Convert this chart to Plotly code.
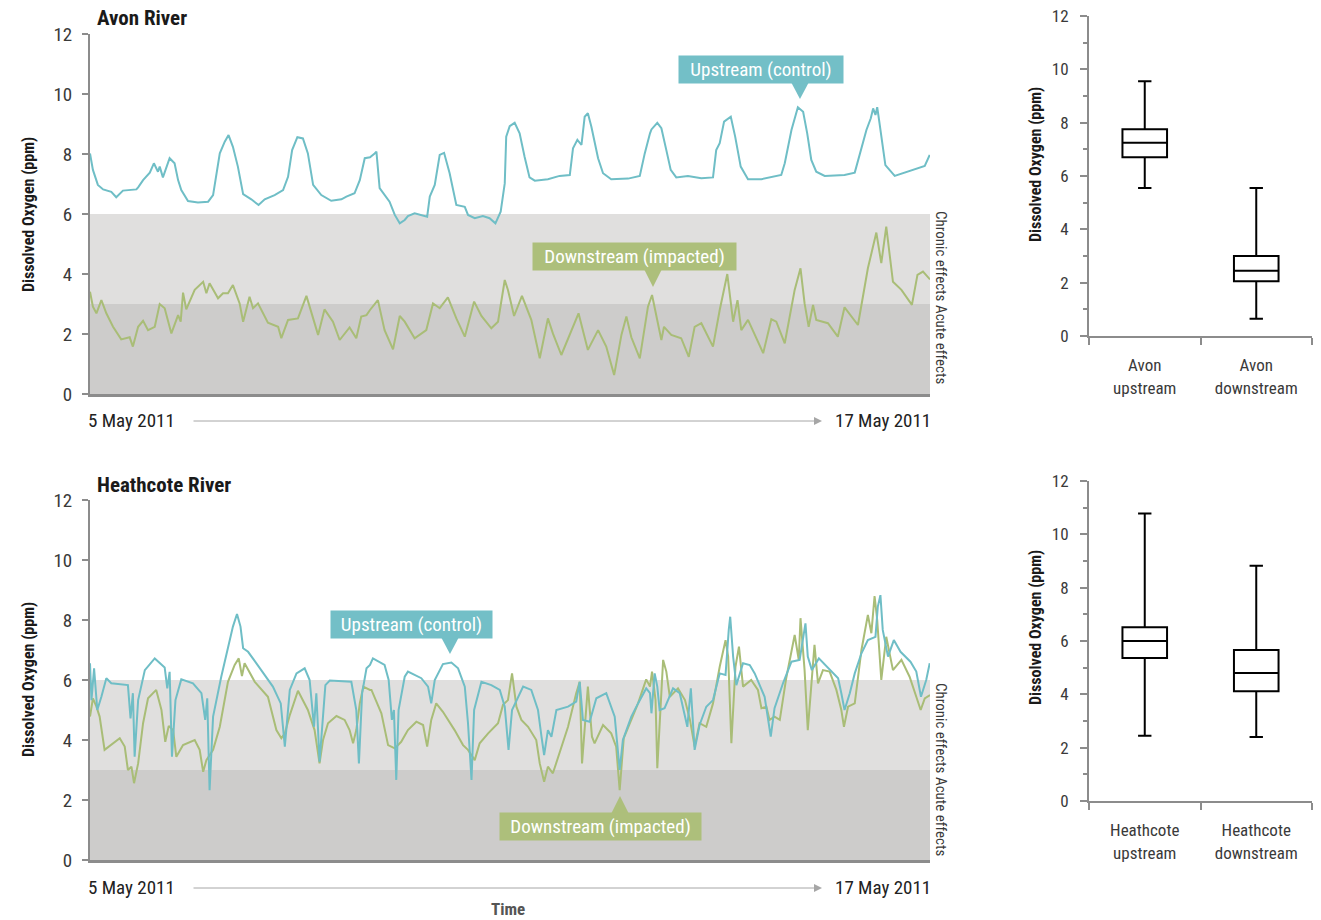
import plotly.graph_objects as go
import pandas as pd

# ---------------- data (hours since 5 May 2011 00:00, dissolved oxygen ppm) ----------------
AVON_UP_H = [0, 1.0, 2.7, 4.5, 7.3, 9.0, 11.3, 14.2, 15.9, 16.5, 18.2, 20.5, 21.9, 23.3, 23.9, 25.0, 27.3, 29.0, 30.2, 31.3,
             33.6, 37.0, 40.5, 42.2, 43.3, 44.5, 46.2, 47.5, 49.0, 50.7, 52.5, 55.3, 57.8, 59.9, 63.3, 66.2, 67.9, 69.3, 71.1, 73.0,
             74.7, 76.5, 79.3, 82.7, 86.2, 87.9, 90.7, 92.5, 94.2, 96.0,
             97.6, 98.2, 99.3, 101.0, 102.7, 104.5, 106.2, 107.9, 109.0, 111.3, 113.6, 115.6, 116.5, 118.2, 119.9, 121.4, 123.3, 125.6, 128.5, 129.6,
             131.9, 134.7, 137.0, 139.0, 140.8, 142.2, 142.7, 143.9, 145.6, 147.3, 149.0, 150.7, 152.5, 157.0, 161.0, 164.5, 165.6, 167.1, 168.5, 169.6,
             170.7, 171.9, 174.2, 175.9, 178.7, 184.5, 188.5, 190.2, 192.0,
             192.5, 194.5, 195.9, 197.6, 199.1, 201.0, 205.0, 209.6, 213.6, 214.7, 215.9, 217.4, 219.7, 221.2, 223.1, 225.6, 230.2, 237.0, 238.2, 240.5,
             242.7, 244.5, 245.9, 247.3, 249.0, 251.9, 258.7, 262.2, 263.9, 266.2, 267.7, 268.5, 269.3, 269.9, 270.7, 272.7, 275.9, 280.5, 286.2, 287.9]
AVON_UP_V = [8.02, 7.47, 6.97, 6.82, 6.74, 6.56, 6.78, 6.82, 6.82, 6.89, 7.13, 7.38, 7.69, 7.41, 7.58, 7.22, 7.86, 7.69, 7.13, 6.8,
             6.43, 6.38, 6.41, 6.63, 7.36, 8.02, 8.41, 8.63, 8.24, 7.58, 6.66, 6.49, 6.3, 6.49, 6.63, 6.8, 7.24, 8.13, 8.56, 8.52,
             8.02, 6.97, 6.63, 6.44, 6.49, 6.58, 6.69, 7.13, 7.86, 7.89,
             8.02, 8.08, 6.86, 6.63, 6.41, 5.97, 5.69, 5.8, 5.93, 6.02, 5.97, 5.91, 6.58, 6.97, 7.97, 8.04, 7.36, 6.3, 6.24, 5.97,
             5.86, 5.93, 5.86, 5.69, 6.08, 7.02, 8.58, 8.93, 9.04, 8.69, 7.91, 7.22, 7.11, 7.16, 7.27, 7.3, 8.19, 8.47, 8.3, 9.24,
             9.36, 8.91, 7.86, 7.36, 7.16, 7.18, 7.27, 8.02, 8.69,
             8.82, 9.04, 8.86, 8.13, 7.47, 7.22, 7.27, 7.19, 7.22, 8.13, 8.36, 9.08, 9.24, 8.58, 7.58, 7.16, 7.16, 7.3, 7.69, 8.8,
             9.56, 9.41, 8.69, 7.8, 7.41, 7.27, 7.3, 7.38, 8.02, 8.8, 9.19, 9.52, 9.3, 9.56, 9.02, 7.63, 7.27, 7.41, 7.6, 7.97]

AVON_DN_H = [0, 1.0, 2.2, 3.9, 5.6, 7.9, 10.7, 13.6, 14.7, 16.5, 18.2, 19.9, 22.2, 23.9, 25.6, 27.9, 30.2, 31.1, 31.9, 33.0,
             35.9, 38.8, 39.9, 41.0, 43.9, 45.6, 47.3, 49.0, 51.3, 52.5, 54.7, 55.9, 57.6, 61.0, 64.5, 65.6, 67.9, 71.3, 74.2, 75.9,
             78.2, 80.4, 83.3, 85.6, 89.0, 91.3, 93.0, 94.8, 96.0,
             98.7, 101.0, 103.9, 106.2, 107.9, 111.3, 115.3, 117.6, 119.9, 122.7, 125.6, 128.5, 131.7, 134.2, 137.6, 139.9, 142.2, 143.3, 145.4, 148.1,
             151.3, 154.2, 157.0, 158.7, 161.6, 164.5, 167.5, 170.7, 174.2, 177.0, 179.7, 182.2, 183.9, 185.6, 188.5, 191.3,
             192.7, 195.9, 196.8, 199.3, 202.7, 205.3, 207.3, 209.6, 213.6, 215.9, 218.5, 220.5, 222.0, 223.3, 225.6, 230.8, 233.6, 235.3, 238.2, 241.6,
             243.6, 245.0, 246.4, 247.9, 249.0, 253.0, 256.4, 258.7, 263.3, 266.7, 269.6, 271.3, 273.0, 275.3, 278.2, 281.8, 283.7, 285.6, 288.0]
AVON_DN_V = [3.41, 2.91, 2.69, 3.13, 2.69, 2.24, 1.82, 1.89, 1.58, 2.24, 2.44, 2.13, 2.24, 3.0, 2.86, 2.02, 2.63, 2.41, 3.38, 2.82,
             3.47, 3.74, 3.36, 3.69, 3.19, 3.36, 3.36, 3.63, 3.02, 2.41, 3.24, 2.86, 3.02, 2.38, 2.24, 1.86, 2.47, 2.52, 3.27, 2.69,
             1.97, 2.82, 2.41, 1.8, 2.22, 1.86, 2.58, 2.63, 2.8,
             3.13, 2.13, 1.49, 2.6, 2.41, 1.86, 2.13, 3.02, 2.86, 3.22, 2.52, 1.91, 3.08, 2.6, 2.19, 2.41, 3.8, 3.47, 2.6, 3.27,
             2.47, 1.19, 2.52, 2.02, 1.3, 1.97, 2.69, 1.47, 2.13, 1.58, 0.63, 1.97, 2.58, 1.89, 1.19, 2.91,
             3.3, 1.8, 2.24, 1.97, 1.86, 1.24, 2.24, 2.36, 1.58, 2.8, 4.0, 2.41, 3.13, 2.13, 2.47, 1.36, 2.49, 2.41, 1.69, 3.47,
             4.19, 3.02, 2.24, 2.97, 2.47, 2.36, 1.91, 2.89, 2.3, 4.19, 5.38, 4.36, 5.58, 3.74, 3.47, 2.97, 3.97, 4.08, 3.82]

HEATH_UP_H = [0, 0.5, 1.4, 2.5, 3.9, 5.6, 7.3, 13.0, 13.9, 14.7, 15.3, 16.5, 18.8, 22.2, 25.6, 26.5, 27.3, 28.1, 29.3, 31.3,
              35.3, 38.2, 39.5, 40.2, 41.0, 42.2, 45.0, 47.3, 49.0, 50.4, 51.6, 52.5, 54.2, 58.7, 62.7, 65.4, 66.8, 68.5, 70.8, 73.6,
              75.3, 76.8, 77.6, 78.7, 80.7, 82.2, 89.6, 91.3, 92.2, 93.3, 94.8, 96.0,
              97.0, 101.0, 102.4, 103.5, 104.2, 105.0, 105.8, 107.9, 109.0, 113.6, 115.9, 117.0, 118.2, 121.0, 123.9, 126.2, 128.5, 129.6, 130.8, 131.7,
              134.2, 137.6, 140.5, 142.2, 143.5, 144.7, 148.5, 151.3, 153.6, 154.8, 155.7, 157.0, 158.2, 159.9, 163.9, 166.7, 167.9, 169.0, 171.3, 173.6,
              177.0, 179.9, 181.6, 182.7, 185.6, 187.9, 190.7, 192.0,
              192.5, 193.6, 194.5, 195.3, 197.0, 199.9, 202.2, 204.8, 206.0, 207.3, 209.0, 211.3, 213.6, 215.9, 217.9, 219.0, 219.5, 220.5, 221.6, 223.9,
              226.2, 227.9, 230.2, 231.3, 233.4, 234.7, 237.6, 240.5, 243.3, 244.5, 245.3, 246.1, 247.5, 249.9, 253.6, 256.5, 257.6, 258.7, 260.5, 262.2,
              264.5, 266.7, 269.3, 270.1, 271.0, 271.8, 273.6, 275.6, 277.9, 281.3, 283.3, 284.9, 286.7, 287.9]
HEATH_UP_V = [6.56, 5.33, 6.39, 5.0, 5.44, 6.06, 5.89, 5.83, 4.72, 5.56, 3.44, 5.33, 6.33, 6.72, 6.42, 5.72, 6.27, 3.44, 5.33, 6.02,
              5.89, 5.56, 4.67, 5.39, 2.33, 4.78, 6.11, 7.11, 7.78, 8.2, 7.78, 7.06, 6.94, 6.33, 5.78, 5.22, 3.78, 5.67, 6.22, 6.39,
              6.0, 4.44, 5.56, 3.28, 5.83, 5.98, 5.94, 5.0, 3.22, 5.56, 6.39, 6.5,
              6.72, 6.5, 6.0, 4.67, 5.0, 2.67, 5.0, 6.11, 6.28, 6.06, 5.78, 5.22, 6.0, 6.53, 6.58, 6.39, 5.78, 4.56, 2.67, 5.0,
              5.94, 5.83, 5.67, 5.11, 3.67, 5.0, 5.78, 5.67, 5.0, 4.11, 3.5, 4.33, 4.11, 5.0, 5.11, 5.28, 5.94, 4.67, 4.61, 5.39,
              5.56, 4.78, 3.0, 4.0, 4.78, 5.22, 5.72, 5.56,
              4.89, 6.22, 5.78, 5.0, 5.06, 5.72, 5.56, 4.44, 5.72, 3.67, 4.5, 5.11, 5.33, 6.22, 6.17, 7.67, 8.11, 6.78, 5.83, 6.56,
              6.5, 6.22, 5.72, 5.44, 4.11, 5.06, 5.89, 6.61, 6.67, 7.44, 7.89, 6.78, 6.33, 6.72, 6.33, 6.06, 5.56, 5.0, 5.56, 6.22,
              6.89, 7.33, 7.44, 8.44, 8.83, 7.67, 6.78, 7.33, 6.94, 6.61, 6.28, 5.44, 6.0, 6.56]

HEATH_DN_H = [0, 1.0, 2.2, 3.3, 5.0, 7.3, 10.2, 11.9, 13.0, 14.2, 15.1, 16.5, 18.2, 19.9, 22.7, 24.5, 25.8, 27.0, 28.5, 29.6,
              31.9, 35.9, 37.6, 38.8, 39.9, 42.2, 44.5, 47.3, 49.6, 51.0, 52.1, 53.0, 56.5, 61.0, 63.9, 65.6, 66.8, 68.5, 71.3, 74.7,
              77.0, 78.7, 79.9, 81.6, 84.5, 87.3, 89.0, 90.2, 91.3, 92.5, 93.7, 96.0,
              96.5, 99.9, 102.2, 104.5, 106.7, 109.0, 111.9, 114.2, 115.6, 117.0, 118.7, 121.0, 125.0, 127.9, 129.6, 131.9, 133.6, 136.5, 138.2, 139.9,
              141.6, 143.3, 144.7, 146.2, 147.9, 150.2, 153.0, 154.2, 155.7, 157.0, 158.7, 161.6, 163.9, 166.7, 167.9, 168.7, 170.7, 172.1, 173.0, 175.9,
              178.7, 180.4, 181.6, 183.0, 185.6, 187.9, 190.7, 192.0,
              192.7, 193.9, 194.5, 195.7, 196.5, 197.6, 198.8, 201.6, 204.0, 205.7, 207.3, 209.0, 211.3, 213.6, 215.9, 217.9, 218.8, 219.9, 221.3, 222.5,
              223.9, 226.7, 229.0, 230.2, 231.9, 233.0, 234.7, 236.5, 238.7, 241.6, 243.0, 243.6, 245.0, 246.1, 247.3, 248.4, 249.6, 251.3, 253.6, 255.9,
              257.6, 258.5, 259.9, 262.2, 264.5, 266.7, 267.9, 269.0, 269.9, 271.3, 273.0, 275.3, 278.2, 281.0, 283.3, 284.8, 286.2, 288.0]
HEATH_DN_V = [4.78, 5.39, 5.11, 4.78, 3.67, 3.83, 4.06, 3.78, 3.0, 3.11, 2.56, 3.22, 4.56, 5.39, 5.67, 5.0, 3.94, 4.47, 4.33, 3.44,
              3.83, 4.0, 3.67, 2.94, 3.33, 3.67, 4.44, 5.94, 6.5, 6.72, 6.13, 6.56, 5.94, 5.44, 4.33, 4.06, 4.22, 4.83, 5.64, 5.0,
              4.33, 3.22, 4.0, 4.56, 4.8, 4.67, 4.33, 3.89, 4.33, 5.22, 5.78, 5.67,
              5.67, 4.89, 3.83, 3.72, 3.94, 4.33, 4.61, 4.5, 3.78, 4.67, 5.22, 4.94, 4.33, 3.83, 3.67, 3.33, 3.89, 4.22, 4.39, 4.56,
              5.17, 5.33, 6.22, 5.11, 4.67, 4.44, 4.0, 3.22, 2.61, 3.11, 2.89, 3.72, 4.44, 5.56, 5.94, 3.22, 5.78, 4.11, 3.89, 4.5,
              4.22, 3.78, 2.33, 4.06, 4.67, 5.22, 6.02, 5.78,
              6.28, 5.33, 3.06, 5.22, 6.67, 6.28, 5.44, 5.72, 5.33, 4.67, 3.78, 4.56, 4.44, 5.22, 6.44, 7.33, 6.78, 3.89, 6.44, 7.11,
              5.78, 6.0, 5.67, 5.06, 5.11, 4.67, 4.78, 4.67, 6.06, 7.5, 6.67, 8.06, 6.33, 4.33, 5.89, 7.17, 5.89, 6.33, 6.28, 5.67,
              5.0, 4.44, 5.11, 5.22, 7.0, 8.17, 7.56, 8.8, 8.0, 6.0, 7.44, 6.33, 6.67, 6.11, 5.44, 5.0, 5.39, 5.5]

# box plot summaries
AVON_CATS = ["Avon<br>upstream", "Avon<br>downstream"]
AVON_LOW = [5.55, 0.65]
AVON_Q1 = [6.7, 2.05]
AVON_MED = [7.25, 2.45]
AVON_Q3 = [7.75, 3.0]
AVON_HIGH = [9.55, 5.55]

HEATH_CATS = ["Heathcote<br>upstream", "Heathcote<br>downstream"]
HEATH_LOW = [2.45, 2.4]
HEATH_Q1 = [5.36, 4.12]
HEATH_MED = [6.0, 4.8]
HEATH_Q3 = [6.52, 5.66]
HEATH_HIGH = [10.78, 8.82]

Y_TICKS = [0, 2, 4, 6, 8, 10, 12]
ACUTE_LIMIT = 3
CHRONIC_LIMIT = 6

# ---------------- styling ----------------
W, H = 1321, 920
FONT = "Liberation Sans Narrow, Roboto Condensed, DejaVu Sans Condensed, Roboto, sans-serif"
TEAL = "#6fbec6"
GREEN = "#a9bd77"
TEAL_BOX = "#73bfc7"
GREEN_BOX = "#adbf7b"
AXIS = "#8c8c8c"
TXT = "#3a3a3a"
START = pd.Timestamp("2011-05-05")
END = pd.Timestamp("2011-05-17")


def px(x):
    return x / W


def py(y):
    return 1 - y / H


def to_time(hours):
    return [START + pd.Timedelta(hours=h) for h in hours]


fig = go.Figure()

# time series
fig.add_trace(go.Scatter(x=to_time(AVON_DN_H), y=AVON_DN_V, mode="lines", line=dict(color=GREEN, width=2),
                         xaxis="x", yaxis="y", showlegend=False, name="Avon downstream"))
fig.add_trace(go.Scatter(x=to_time(AVON_UP_H), y=AVON_UP_V, mode="lines", line=dict(color=TEAL, width=2),
                         xaxis="x", yaxis="y", showlegend=False, name="Avon upstream"))
fig.add_trace(go.Scatter(x=to_time(HEATH_DN_H), y=HEATH_DN_V, mode="lines", line=dict(color=GREEN, width=2),
                         xaxis="x2", yaxis="y2", showlegend=False, name="Heathcote downstream"))
fig.add_trace(go.Scatter(x=to_time(HEATH_UP_H), y=HEATH_UP_V, mode="lines", line=dict(color=TEAL, width=2),
                         xaxis="x2", yaxis="y2", showlegend=False, name="Heathcote upstream"))

# box plots
box_style = dict(fillcolor="white", line=dict(color="black", width=2), width=0.4, whiskerwidth=0.3,
                 boxpoints=False, showlegend=False)
fig.add_trace(go.Box(x=AVON_CATS, q1=AVON_Q1, median=AVON_MED, q3=AVON_Q3, lowerfence=AVON_LOW,
                     upperfence=AVON_HIGH, xaxis="x3", yaxis="y3", **box_style))
fig.add_trace(go.Box(x=HEATH_CATS, q1=HEATH_Q1, median=HEATH_MED, q3=HEATH_Q3, lowerfence=HEATH_LOW,
                     upperfence=HEATH_HIGH, xaxis="x4", yaxis="y4", **box_style))

ts_x = dict(range=[START, END], showline=True, linecolor=AXIS, linewidth=3, showticklabels=False,
            ticks="", showgrid=False, zeroline=False)
ts_y = dict(range=[0, 12], tickvals=Y_TICKS, ticks="outside", ticklen=6, tickwidth=2, tickcolor=AXIS,
            showline=True, linecolor=AXIS, linewidth=2, showgrid=False, zeroline=False,
            tickfont=dict(family=FONT, size=19, color=TXT), ticklabelstandoff=6)
bx_x = dict(type="category", range=[-0.5, 1.5], tickson="boundaries", ticks="outside", ticklen=7, tickwidth=2,
            tickcolor=AXIS, showline=True, linecolor=AXIS, linewidth=2, showgrid=False, zeroline=False,
            tickfont=dict(family=FONT, size=17, color=TXT), ticklabelstandoff=13)
bx_y = dict(range=[0, 12], tickvals=Y_TICKS, ticks="outside", ticklen=7, tickwidth=2, tickcolor=AXIS,
            showline=True, linecolor=AXIS, linewidth=2, showgrid=False, zeroline=False,
            minor=dict(dtick=1, ticks="outside", ticklen=4, tickwidth=2, tickcolor=AXIS, showgrid=False),
            tickfont=dict(family=FONT, size=17, color=TXT), ticklabelstandoff=8)

fig.update_layout(
    width=W, height=H, margin=dict(l=0, r=0, t=0, b=0, pad=0, autoexpand=False),
    paper_bgcolor="white", plot_bgcolor="rgba(0,0,0,0)",
    font=dict(family=FONT, color=TXT),
    xaxis=dict(domain=[px(90), px(930)], anchor="y", **ts_x),
    yaxis=dict(domain=[py(394), py(34)], anchor="x", **ts_y),
    xaxis2=dict(domain=[px(90), px(930)], anchor="y2", **ts_x),
    yaxis2=dict(domain=[py(860), py(500)], anchor="x2", **ts_y),
    xaxis3=dict(domain=[px(1089), px(1312)], anchor="y3", **bx_x),
    yaxis3=dict(domain=[py(336), py(16)], anchor="x3", **bx_y),
    xaxis4=dict(domain=[px(1089), px(1312)], anchor="y4", **bx_x),
    yaxis4=dict(domain=[py(801), py(481)], anchor="x4", **bx_y),
    hovermode=False,
)

shapes = []
for xr, yr in [("x", "y"), ("x2", "y2")]:
    shapes.append(dict(type="rect", xref=f"{xr} domain", yref=yr, x0=0, x1=1, y0=0, y1=ACUTE_LIMIT,
                       fillcolor="#cdcccb", line=dict(width=0), layer="below"))
    shapes.append(dict(type="rect", xref=f"{xr} domain", yref=yr, x0=0, x1=1, y0=ACUTE_LIMIT, y1=CHRONIC_LIMIT,
                       fillcolor="#e0dfde", line=dict(width=0), layer="below"))


def tri(pts, color):
    p = " ".join(("M" if i == 0 else "L") + f" {px(x):.5f},{py(y):.5f}" for i, (x, y) in enumerate(pts)) + " Z"
    return dict(type="path", xref="paper", yref="paper", path=p, fillcolor=color, line=dict(width=0))


shapes += [
    tri([(791, 82), (809, 82), (800, 99)], TEAL_BOX),
    tri([(644, 269), (662, 269), (653, 287)], GREEN_BOX),
    tri([(441, 637), (459, 637), (450, 654)], TEAL_BOX),
    tri([(611, 814), (629, 814), (620, 796)], GREEN_BOX),
]
fig.update_layout(shapes=shapes)

ann = []


def label(text, x, y, size, color=TXT, xanchor="center", angle=0, bold=False):
    ann.append(dict(text=f"<b>{text}</b>" if bold else text, x=px(x), y=py(y), xref="paper", yref="paper",
                    showarrow=False, xanchor=xanchor, yanchor="middle", textangle=angle,
                    font=dict(family=FONT, size=size, color=color)))


label("Avon River", 95, 18, 21, "#1a1a1a", "left", bold=True)
label("Heathcote River", 95, 485, 21, "#1a1a1a", "left", bold=True)
for yc in (215, 680):
    label("Dissolved Oxygen (ppm)", 28, yc, 16, "#1a1a1a", angle=-90, bold=True)
for yc in (165, 628):
    label("Dissolved Oxygen (ppm)", 1035, yc, 16, "#1a1a1a", angle=-90, bold=True)

for yd in (420, 887):
    label("5 May 2011", 86, yd, 19, "#222222", "left")
    label("17 May 2011", 933, yd, 19, "#222222", "right")
    ann.append(dict(x=px(822), y=py(yd + 1), ax=-(822 - 192), ay=0, xref="paper", yref="paper",
                    axref="pixel", ayref="pixel", text="", showarrow=True, arrowhead=2, arrowsize=1.6,
                    arrowwidth=1, arrowcolor="#a6a6a6"))
label("Time", 508, 909, 17, "#555555", bold=True)

for yc_ch, yc_ac in ((256, 344), (728, 816)):
    label("Chronic effects", 941, yc_ch, 15, TXT, angle=90)
    label("Acute effects", 941, yc_ac, 15, TXT, angle=90)


def callout(text, x0, x1, y0, y1, color):
    ann.append(dict(text=text, x=px((x0 + x1) / 2), y=py((y0 + y1) / 2), xref="paper", yref="paper",
                    showarrow=False, xanchor="center", yanchor="middle", bgcolor=color, borderpad=0,
                    width=x1 - x0, height=y1 - y0, font=dict(family=FONT, size=19, color="white")))


callout("Upstream (control)", 679, 843, 56, 83, TEAL_BOX)
callout("Downstream (impacted)", 533, 736, 243, 270, GREEN_BOX)
callout("Upstream (control)", 331, 492, 611, 638, TEAL_BOX)
callout("Downstream (impacted)", 500, 701, 813, 840, GREEN_BOX)

fig.update_layout(annotations=ann)
fig.write_html("out.html", config={"displayModeBar": False},
               post_script="document.body.style.margin='0';document.body.style.overflow='hidden';")
